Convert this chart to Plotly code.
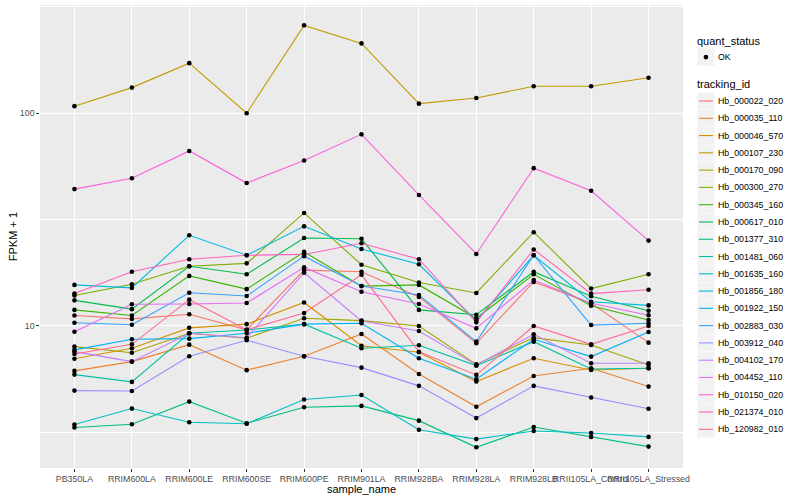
import plotly.graph_objects as go

# ---------------- data ----------------
samples = ["PB350LA", "RRIM600LA", "RRIM600LE", "RRIM600SE", "RRIM600PE", "RRIM901LA",
           "RRIM928BA", "RRIM928LA", "RRIM928LB", "RRII105LA_Control", "RRII105LA_Stressed"]

tracking_ids = ["Hb_000022_020", "Hb_000035_110", "Hb_000046_570", "Hb_000107_230",
                "Hb_000170_090", "Hb_000300_270", "Hb_000345_160", "Hb_000617_010",
                "Hb_001377_310", "Hb_001481_060", "Hb_001635_160", "Hb_001856_180",
                "Hb_001922_150", "Hb_002883_030", "Hb_003912_040", "Hb_004102_170",
                "Hb_004452_110", "Hb_010150_020", "Hb_021374_010", "Hb_120982_010"]

fpkm_000022_020 = [11.2, 10.8, 11.35, 9.6, 18.3, 18.0, 13.7, 8.3, 16.1, 12.8, 8.35]
fpkm_000035_110 = [6.15, 6.8, 8.17, 6.2, 7.2, 9.17, 5.95, 4.17, 5.82, 6.33, 5.19]
fpkm_000046_570 = [7.02, 7.86, 9.8, 10.2, 12.9, 8.08, 7.52, 5.48, 7.05, 6.21, 6.33]
fpkm_000107_230 = [108, 132, 172, 100, 259, 213, 111, 118, 134, 134, 147]
fpkm_000170_090 = [8.0, 7.49, 9.24, 8.76, 10.87, 10.6, 10.0, 6.6, 8.82, 8.14, 6.56]
fpkm_000300_270 = [13.9, 15.7, 19.1, 19.7, 34.0, 19.4, 16.0, 14.3, 27.6, 15.0, 17.5]
fpkm_000345_160 = [11.9, 11.2, 17.2, 14.9, 22.3, 15.4, 15.6, 10.87, 17.5, 12.45, 10.67]
fpkm_000617_010 = [13.2, 12.0, 19.1, 17.5, 25.9, 25.7, 11.9, 11.3, 18.0, 13.8, 11.8]
fpkm_001377_310 = [3.33, 3.45, 4.41, 3.49, 4.15, 4.21, 3.59, 2.69, 3.35, 3.01, 2.71]
fpkm_001481_060 = [5.91, 5.46, 9.24, 9.58, 10.2, 7.86, 8.12, 6.51, 8.44, 6.28, 6.33]
fpkm_001635_160 = [3.44, 4.09, 3.53, 3.47, 4.51, 4.74, 3.25, 2.94, 3.21, 3.14, 3.01]
fpkm_001856_180 = [15.6, 15.1, 26.7, 21.5, 29.4, 23.0, 19.5, 10.6, 21.5, 13.0, 12.5]
fpkm_001922_150 = [7.72, 8.66, 8.72, 9.24, 10.2, 10.3, 7.05, 5.62, 8.66, 7.18, 9.37]
fpkm_002883_030 = [10.36, 10.14, 14.33, 13.83, 21.3, 15.41, 13.98, 8.44, 21.5, 10.1, 10.3]
fpkm_003912_040 = [4.97, 4.95, 7.21, 8.57, 7.21, 6.37, 5.23, 3.69, 5.23, 4.61, 4.08]
fpkm_004102_170 = [7.58, 6.80, 9.24, 8.81, 17.8, 10.55, 9.47, 6.56, 9.14, 6.68, 6.68]
fpkm_004452_110 = [9.40, 12.65, 12.69, 12.82, 18.86, 14.49, 12.69, 9.75, 16.44, 12.78, 11.23]
fpkm_010150_020 = [44.0, 49.5, 66.5, 47.0, 60.0, 79.6, 41.3, 21.8, 55.2, 43.2, 25.2]
fpkm_021374_010 = [14.2, 18.0, 20.6, 21.5, 21.7, 24.5, 20.6, 10.4, 22.9, 14.2, 14.8]
fpkm_120982_010 = [7.39, 8.2, 13.3, 9.6, 11.5, 17.4, 7.57, 5.89, 10.0, 8.2, 10.0]

y_tick_vals = [10, 100]
y_tick_text = ["10", "100"]
quant_status = "OK"

series = [fpkm_000022_020, fpkm_000035_110, fpkm_000046_570, fpkm_000107_230,
          fpkm_000170_090, fpkm_000300_270, fpkm_000345_160, fpkm_000617_010,
          fpkm_001377_310, fpkm_001481_060, fpkm_001635_160, fpkm_001856_180,
          fpkm_001922_150, fpkm_002883_030, fpkm_003912_040, fpkm_004102_170,
          fpkm_004452_110, fpkm_010150_020, fpkm_021374_010, fpkm_120982_010]

colors = ["#F8766D", "#EA8331", "#D89000", "#C09B00", "#A3A500", "#7CAE00", "#39B600",
          "#00BB4E", "#00BF7D", "#00C1A3", "#00BFC4", "#00BAE0", "#00B0F6", "#35A2FF",
          "#9590FF", "#C77CFF", "#E76BF3", "#FA62DB", "#FF62BC", "#FF6C91"]

# ---------------- geometry (pixels) ----------------
W, H = 800, 500
L, R, T, B = 40, 683, 5, 468
PW, PH = R - L, B - T
FONT = "Liberation Sans, Arial, sans-serif"


def xp(px):
    return (px - L) / PW


def yp(py):
    return (B - py) / PH


fig = go.Figure()

for name, vals, col in zip(tracking_ids, series, colors):
    fig.add_trace(go.Scatter(x=samples, y=vals, mode="lines", name=name,
                             line=dict(color=col, width=1.1), showlegend=False))

all_x = [s for vals in series for s in samples]
all_y = [v for vals in series for v in vals]
fig.add_trace(go.Scatter(x=all_x, y=all_y, mode="markers", name=quant_status,
                         marker=dict(color="black", size=4.6), showlegend=False))

shapes = []
annotations = []

# legend: quant_status
annotations.append(dict(x=xp(695), y=yp(40.7), xref="paper", yref="paper", text="quant_status",
                        showarrow=False, xanchor="left", yanchor="middle",
                        font=dict(family=FONT, size=11, color="black")))
shapes.append(dict(type="rect", xref="paper", yref="paper", x0=xp(697.3), x1=xp(714.6),
                   y0=yp(48.4), y1=yp(65.7), fillcolor="#F2F2F2", line=dict(width=0), layer="below"))
shapes.append(dict(type="circle", xref="paper", yref="paper", x0=xp(703.6), x1=xp(708.3),
                   y0=yp(54.7), y1=yp(59.4), fillcolor="black", line=dict(width=0)))
annotations.append(dict(x=xp(715.5), y=yp(57), xref="paper", yref="paper", text=quant_status,
                        showarrow=False, xanchor="left", yanchor="middle",
                        font=dict(family=FONT, size=8.8, color="black")))

# legend: tracking_id
annotations.append(dict(x=xp(695), y=yp(84.3), xref="paper", yref="paper", text="tracking_id",
                        showarrow=False, xanchor="left", yanchor="middle",
                        font=dict(family=FONT, size=11, color="black")))
for i, (name, col) in enumerate(zip(tracking_ids, colors)):
    cy = 101 + 17.28 * i
    shapes.append(dict(type="rect", xref="paper", yref="paper", x0=xp(697.3), x1=xp(714.6),
                       y0=yp(cy + 8.4), y1=yp(cy - 8.4), fillcolor="#F2F2F2",
                       line=dict(width=0), layer="below"))
    shapes.append(dict(type="line", xref="paper", yref="paper", x0=xp(699), x1=xp(713),
                       y0=yp(cy), y1=yp(cy), line=dict(color=col, width=1.1)))
    annotations.append(dict(x=xp(715.5), y=yp(cy), xref="paper", yref="paper", text=name,
                            showarrow=False, xanchor="left", yanchor="middle",
                            font=dict(family=FONT, size=8.8, color="black")))

# axis titles
annotations.append(dict(x=xp((L + R) / 2), y=yp(489), xref="paper", yref="paper",
                        text="sample_name", showarrow=False, xanchor="center", yanchor="middle",
                        font=dict(family=FONT, size=11, color="black")))
annotations.append(dict(x=xp(12.7), y=yp((T + B) / 2), xref="paper", yref="paper",
                        text="FPKM + 1", showarrow=False, textangle=-90,
                        xanchor="center", yanchor="middle",
                        font=dict(family=FONT, size=11, color="black")))

fig.update_layout(
    width=W, height=H,
    margin=dict(l=L, r=W - R, t=T, b=H - B, pad=0),
    paper_bgcolor="white", plot_bgcolor="#EBEBEB",
    showlegend=False,
    font=dict(family=FONT),
    shapes=shapes, annotations=annotations,
    xaxis=dict(type="category", categoryorder="array", categoryarray=samples,
               range=[-0.6, len(samples) - 0.4], tickangle=0,
               showgrid=True, gridcolor="white", gridwidth=1.07, zeroline=False, showline=False,
               ticks="outside", ticklen=2.7, tickwidth=1.07, tickcolor="#333333",
               tickfont=dict(family=FONT, size=8.8, color="#4D4D4D"), automargin=False),
    yaxis=dict(type="log", range=[0.3324, 2.509],
               tickmode="array", tickvals=y_tick_vals, ticktext=y_tick_text,
               showgrid=True, gridcolor="white", gridwidth=1.07, zeroline=False, showline=False,
               ticks="outside", ticklen=2.7, tickwidth=1.07, tickcolor="#333333",
               tickfont=dict(family=FONT, size=8.8, color="#4D4D4D"), automargin=False,
               minor=dict(tickvals=[10 ** 0.5, 10 ** 1.5, 10 ** 2.5], showgrid=True,
                          gridcolor="white", gridwidth=0.53, ticks="")),
)

fig.write_html("out.html", config={"displayModeBar": False},
               post_script="document.body.style.margin='0px';document.body.style.overflow='hidden';")
